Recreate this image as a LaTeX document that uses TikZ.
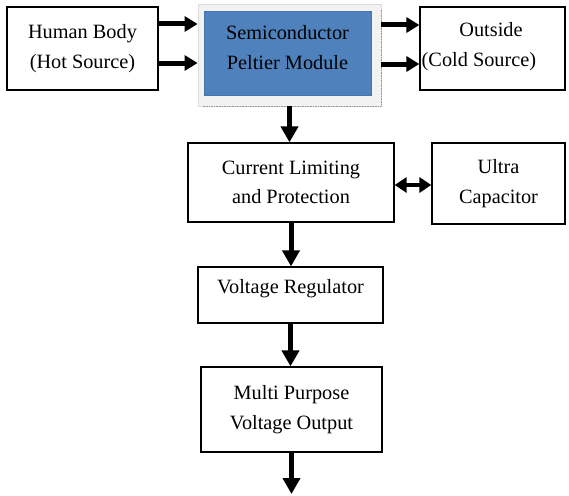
\documentclass[tikz,border=0pt]{standalone}
\usepackage{fontspec}
\setmainfont{Liberation Serif}
\usetikzlibrary{arrows.meta}
\definecolor{peltblue}{RGB}{79,129,189}
\definecolor{peltedge}{RGB}{70,118,176}
\definecolor{framefill}{RGB}{242,242,242}
\definecolor{frameedge}{RGB}{220,220,220}
\definecolor{shadowgray}{RGB}{150,150,160}
\begin{document}
\begin{tikzpicture}[x=1pt,y=-1pt,
  txt/.style={inner sep=0pt,align=center,font=\fontsize{20.3}{29.5}\selectfont},
  box/.style={txt,draw=black,line width=1.3pt,fill=white},
  fat/.style={line width=5pt,-{Triangle[length=13pt,width=15pt]}},
  fatdown/.style={line width=5pt,-{Triangle[length=16pt,width=17pt]}},
  dbl/.style={line width=4pt,{Triangle[length=12pt,width=15pt]}-{Triangle[length=12pt,width=15pt]}}]
\useasboundingbox (0,0) rectangle (569,495);
% top row
\node[box,minimum width=151pt,minimum height=83pt] (hb) at (82.5,48.5) {Human Body\\(Hot Source)};
\node[inner sep=0pt,fill=framefill,draw=frameedge,line width=0.8pt,minimum width=183pt,minimum height=102pt] (frame) at (289.5,55) {};
\draw[shadowgray,densely dotted,line width=1.6pt] (381.5,10) -- (381.5,106.5) -- (203,106.5);
\node[inner sep=0pt,fill=peltblue,draw=peltedge,line width=1pt,minimum width=167pt,minimum height=83pt] (pelt) at (287.5,53.5) {};
\node[txt] (pelttxt) at (287.5,47.5) {Semiconductor\\Peltier Module};
\node[box,minimum width=145pt,minimum height=83pt] (out) at (492.5,48.5) {};
\node[txt] (outtxt1) at (491,30) {Outside};
\node[txt,anchor=west] (outtxt2) at (421.5,62) {(Cold Source)};
% middle
\node[box,minimum width=206pt,minimum height=79pt] (cl) at (291,182.5) {Current Limiting\\and Protection};
\node[box,minimum width=133pt,minimum height=81pt] (uc) at (498.5,183.5) {Ultra\\Capacitor};
\node[box,minimum width=185pt,minimum height=56pt] (vr) at (290.5,295) {};
\node[txt] (vrtxt) at (290.5,289) {Voltage Regulator};
\node[box,minimum width=181pt,minimum height=85pt] (mp) at (291.5,409.5) {Multi Purpose\\Voltage Output};
\coordinate (end) at (290,494);
% arrows
\draw[fat] (hb.east |- 0,24) -- (frame.west |- 0,24);
\draw[fat] (hb.east |- 0,63) -- (frame.west |- 0,63);
\draw[fat] (frame.east |- 0,25) -- (out.west |- 0,25);
\draw[fat] (frame.east |- 0,64) -- (out.west |- 0,64);
\draw[fatdown] (frame.south) -- (frame.south |- cl.north);
\draw[dbl] (cl.east |- 0,185) -- (uc.west |- 0,185);
\draw[fatdown] (cl.south) -- (cl.south |- vr.north);
\draw[fatdown] (vr.south) -- (vr.south |- mp.north);
\draw[fatdown] (mp.south) -- (mp.south |- end);
\end{tikzpicture}
\end{document}
